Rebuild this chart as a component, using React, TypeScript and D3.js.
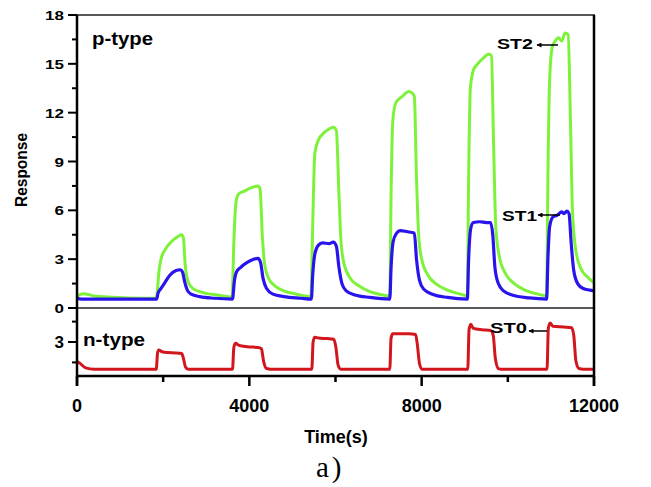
import React from "react";
import * as d3 from "d3";

// ---- data (time in s, response) ----
const st2Points: [number, number][] = [
  [0, 0.75], [150, 0.88], [400, 0.74], [800, 0.66], [1200, 0.62], [1840, 0.6],
  [1870, 1.2], [1900, 2.2], [1950, 3.0], [2050, 3.6], [2200, 4.1], [2350, 4.4], [2430, 4.5], [2470, 4.3],
  [2510, 2.7], [2570, 1.7], [2650, 1.3], [2800, 1.05], [3000, 0.9], [3300, 0.78], [3600, 0.68],
  [3640, 4.0], [3690, 6.5], [3750, 7.0], [3900, 7.2], [4050, 7.4], [4200, 7.5], [4250, 7.3],
  [4300, 4.5], [4350, 2.8], [4450, 1.8], [4600, 1.35], [4800, 1.05], [5100, 0.85], [5430, 0.7],
  [5470, 5.0], [5520, 9.5], [5600, 10.3], [5750, 10.8], [5850, 11.0], [5950, 11.1], [6020, 10.9],
  [6080, 7.0], [6130, 4.0], [6200, 2.7], [6350, 1.8], [6550, 1.35], [6800, 1.0], [7100, 0.8], [7260, 0.72],
  [7290, 7.0], [7330, 11.5], [7400, 12.6], [7550, 13.0], [7700, 13.3], [7780, 13.2], [7830, 13.0],
  [7880, 8.0], [7930, 4.5], [8000, 3.0], [8150, 2.0], [8350, 1.45], [8600, 1.1], [8900, 0.85], [9060, 0.75],
  [9090, 8.0], [9130, 13.5], [9200, 14.6], [9300, 15.0], [9450, 15.4], [9550, 15.6], [9620, 15.5],
  [9670, 10.0], [9720, 5.0], [9800, 3.2], [9950, 2.1], [10150, 1.5], [10400, 1.1], [10700, 0.85], [10900, 0.75],
  [10930, 8.0], [10970, 14.0], [11030, 16.0], [11100, 16.4], [11180, 16.6], [11250, 16.4], [11330, 16.9], [11400, 16.8],
  [11450, 12.0], [11500, 6.0], [11580, 3.5], [11700, 2.4], [11850, 1.9], [12000, 1.55],
];

const st1Points: [number, number][] = [
  [0, 0.6], [100, 0.55], [400, 0.55], [1000, 0.55], [1850, 0.55],
  [1880, 0.9], [1950, 1.2], [2050, 1.6], [2150, 2.0], [2300, 2.3], [2400, 2.35], [2450, 2.2],
  [2500, 1.6], [2560, 1.1], [2650, 0.85], [2850, 0.7], [3200, 0.6], [3610, 0.55],
  [3650, 1.6], [3700, 2.2], [3800, 2.5], [3950, 2.8], [4100, 3.0], [4200, 3.05], [4260, 2.8],
  [4320, 1.8], [4400, 1.2], [4550, 0.85], [4800, 0.7], [5200, 0.6], [5440, 0.55],
  [5470, 2.0], [5520, 3.3], [5600, 3.85], [5700, 4.0], [5850, 3.95], [5950, 4.05], [6020, 3.8],
  [6080, 2.5], [6150, 1.5], [6250, 1.05], [6450, 0.8], [6800, 0.65], [7260, 0.55],
  [7290, 2.5], [7340, 4.1], [7420, 4.6], [7500, 4.75], [7650, 4.7], [7750, 4.65], [7830, 4.6],
  [7880, 3.0], [7950, 1.7], [8050, 1.15], [8250, 0.85], [8600, 0.65], [9060, 0.55],
  [9090, 3.0], [9140, 4.9], [9200, 5.25], [9350, 5.3], [9500, 5.25], [9600, 5.25],
  [9650, 4.5], [9700, 2.5], [9780, 1.5], [9900, 1.05], [10100, 0.8], [10500, 0.62], [10900, 0.55],
  [10930, 3.0], [10970, 5.0], [11050, 5.6], [11150, 5.7], [11250, 5.9], [11300, 5.8], [11370, 5.95], [11420, 5.8],
  [11470, 4.0], [11530, 2.3], [11620, 1.5], [11750, 1.2], [11900, 1.1], [12000, 1.05],
];

const st0Points: [number, number][] = [
  [0, 1.55], [60, 1.45], [200, 1.1], [400, 1.0], [1000, 1.0], [1840, 1.0],
  [1870, 2.2], [1900, 2.42], [1960, 2.3], [2100, 2.22], [2300, 2.2], [2430, 2.15],
  [2470, 1.8], [2520, 1.15], [2580, 1.0], [3000, 1.0], [3610, 1.0],
  [3640, 2.6], [3680, 2.9], [3760, 2.75], [3950, 2.65], [4200, 2.6], [4280, 2.5],
  [4330, 1.6], [4400, 1.05], [4500, 1.0], [5450, 1.0],
  [5480, 3.0], [5520, 3.35], [5600, 3.3], [5800, 3.25], [5960, 3.2],
  [6010, 2.6], [6060, 1.3], [6120, 1.0], [7260, 1.0],
  [7290, 3.3], [7330, 3.6], [7500, 3.6], [7700, 3.6], [7860, 3.55],
  [7900, 2.8], [7950, 1.4], [8010, 1.0], [9070, 1.0],
  [9100, 3.9], [9140, 4.3], [9200, 4.0], [9400, 3.9], [9600, 3.85],
  [9660, 3.5], [9710, 1.8], [9780, 1.05], [9850, 1.0], [10910, 1.0],
  [10940, 4.0], [10980, 4.4], [11050, 4.15], [11300, 4.1], [11480, 4.05],
  [11530, 3.5], [11580, 1.6], [11650, 1.05], [11750, 1.0], [12000, 1.0],
];

const xMajorTicks = [0, 4000, 8000, 12000];
const xMinorTicks = [2000, 6000, 10000];
const topMajorTicks = [0, 3, 6, 9, 12, 15, 18];
const topMinorTicks = [1.5, 4.5, 7.5, 10.5, 13.5, 16.5];
const botMajorTicks = [3];
const botMinorTicks = [1.5, 4.5];

const FONT = "'Liberation Sans', Arial, sans-serif";

export default function App() {
  const left = 77, right = 594;
  const topY0 = 15, topY1 = 308, botY1 = 376;

  const x = d3.scaleLinear().domain([0, 12000]).range([left, right]);
  const yTop = d3.scaleLinear().domain([0, 18]).range([topY1, topY0]);
  const yBot = d3.scaleLinear().domain([0.5, 5.5]).range([botY1, topY1]);

  const lineTop = d3.line<[number, number]>().x(d => x(d[0])).y(d => yTop(d[1])).curve(d3.curveMonotoneX);
  const lineBot = d3.line<[number, number]>().x(d => x(d[0])).y(d => yBot(d[1])).curve(d3.curveMonotoneX);

  const green = "#7ef23a";
  const blue = "#2a14ee";
  const red = "#d2161e";

  return (
    <div style={{ position: "fixed", left: 0, top: 0 }}>
      <svg width={651} height={487} style={{ display: "block", background: "#fff" }}>
        <defs>
          <clipPath id="clipTop"><rect x={left} y={topY0} width={right - left} height={topY1 - topY0} /></clipPath>
          <clipPath id="clipBot"><rect x={left} y={topY1} width={right - left} height={botY1 - topY1} /></clipPath>
          <marker id="arrowL" viewBox="0 0 10 10" refX="9" refY="5" markerWidth="8" markerHeight="5" orient="auto" markerUnits="userSpaceOnUse">
            <path d="M0,0 L10,5 L0,10 Z" fill="#000" />
          </marker>
        </defs>

        {/* data lines */}
        <g clipPath="url(#clipTop)" fill="none" strokeLinejoin="round" strokeLinecap="round">
          <path d={lineTop(st2Points) || ""} stroke={green} strokeWidth={3} />
          <path d={lineTop(st1Points) || ""} stroke={blue} strokeWidth={3.2} />
        </g>
        <g clipPath="url(#clipBot)" fill="none" strokeLinejoin="round">
          <path d={lineBot(st0Points) || ""} stroke={red} strokeWidth={3} />
        </g>

        {/* frame */}
        <line x1={left} x2={right + 1} y1={topY0} y2={topY0} stroke="#222" strokeWidth={1.5} />
        <line x1={left} x2={right + 1} y1={topY1} y2={topY1} stroke="#222" strokeWidth={1.5} />
        <line x1={left} x2={right + 1} y1={botY1} y2={botY1} stroke="#000" strokeWidth={2.5} />
        <line x1={left} x2={left} y1={topY0} y2={botY1 + 10} stroke="#000" strokeWidth={2.5} />
        <line x1={right} x2={right} y1={topY0} y2={botY1 + 10} stroke="#000" strokeWidth={2.5} />

        {/* top y ticks */}
        {topMajorTicks.map(t => (
          <g key={"tm" + t}>
            <line x1={left - 9} x2={left} y1={yTop(t)} y2={yTop(t)} stroke="#000" strokeWidth={2} />
            <text transform={`translate(64,${yTop(t) + 5}) scale(1,0.8)`} textAnchor="end" fontFamily={FONT} fontWeight="bold" fontSize={17} fill="#000">{t}</text>
          </g>
        ))}
        {topMinorTicks.map(t => (
          <line key={"tn" + t} x1={left - 5} x2={left} y1={yTop(t)} y2={yTop(t)} stroke="#000" strokeWidth={2} />
        ))}

        {/* bottom y ticks */}
        {botMajorTicks.map(t => (
          <g key={"bm" + t}>
            <line x1={left - 9} x2={left} y1={yBot(t)} y2={yBot(t)} stroke="#000" strokeWidth={2} />
            <text x={64} y={yBot(t) + 6} textAnchor="end" fontFamily={FONT} fontWeight="bold" fontSize={17} fill="#000">{t}</text>
          </g>
        ))}
        {botMinorTicks.map(t => (
          <line key={"bn" + t} x1={left - 5} x2={left} y1={yBot(t)} y2={yBot(t)} stroke="#000" strokeWidth={2} />
        ))}

        {/* x ticks */}
        {xMajorTicks.map(t => (
          <g key={"xm" + t}>
            <line x1={x(t)} x2={x(t)} y1={botY1} y2={botY1 + 10} stroke="#000" strokeWidth={2.5} />
            <text x={x(t)} y={412} textAnchor="middle" fontFamily={FONT} fontWeight="bold" fontSize={18} fill="#000">{t}</text>
          </g>
        ))}
        {xMinorTicks.map(t => (
          <line key={"xn" + t} x1={x(t)} x2={x(t)} y1={botY1} y2={botY1 + 6} stroke="#000" strokeWidth={2.5} />
        ))}

        {/* axis titles */}
        <text x={336} y={443} textAnchor="middle" fontFamily={FONT} fontWeight="bold" fontSize={18} fill="#000">Time(s)</text>
        <text transform="translate(27,170) rotate(-90)" textAnchor="middle" fontFamily={FONT} fontWeight="bold" fontSize={16} textLength={74} lengthAdjust="spacingAndGlyphs" fill="#000">Response</text>
        <text x={316} y={477} fontFamily="'Liberation Serif', 'Times New Roman', serif" fontSize={29} letterSpacing={3} fill="#000">a)</text>

        {/* panel labels */}
        <text x={92} y={45} fontFamily={FONT} fontWeight="bold" fontSize={18} textLength={61} lengthAdjust="spacingAndGlyphs" fill="#000">p-type</text>
        <text x={83} y={346} fontFamily={FONT} fontWeight="bold" fontSize={19} textLength={62} lengthAdjust="spacingAndGlyphs" fill="#000">n-type</text>

        {/* annotations */}
        <text x={497} y={49} fontFamily={FONT} fontWeight="bold" fontSize={14} textLength={36} lengthAdjust="spacingAndGlyphs" fill="#000">ST2</text>
        <line x1={558} y1={45} x2={537} y2={45} stroke="#000" strokeWidth={1.5} markerEnd="url(#arrowL)" />
        <text x={502} y={221} fontFamily={FONT} fontWeight="bold" fontSize={14} textLength={35} lengthAdjust="spacingAndGlyphs" fill="#000">ST1</text>
        <line x1={560} y1={215} x2={538} y2={215} stroke="#000" strokeWidth={1.5} markerEnd="url(#arrowL)" />
        <text x={490} y={333} fontFamily={FONT} fontWeight="bold" fontSize={15} textLength={37} lengthAdjust="spacingAndGlyphs" fill="#000">ST0</text>
        <line x1={547} y1={331} x2={529} y2={331} stroke="#000" strokeWidth={1.5} markerEnd="url(#arrowL)" />
      </svg>
    </div>
  );
}
